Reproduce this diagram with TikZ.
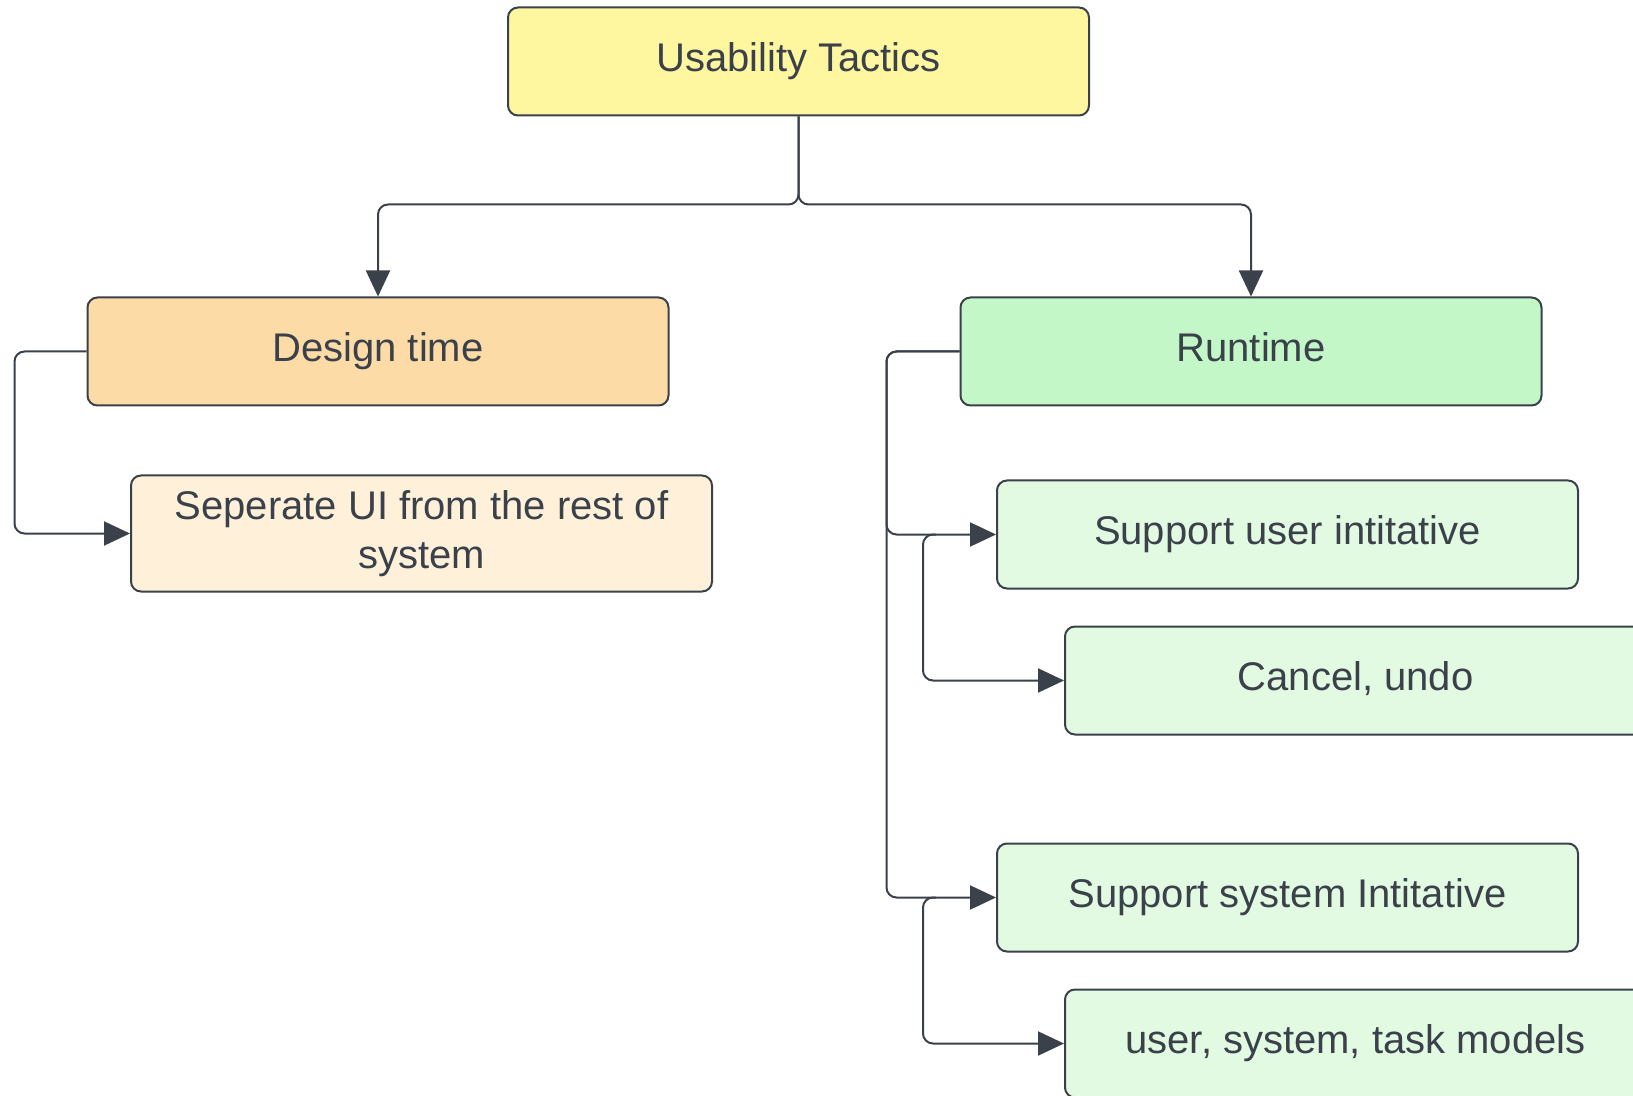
\documentclass[tikz,border=0pt]{standalone}
\usepackage{fontspec}
\setmainfont{Liberation Sans}
\usepackage{xcolor}
\usepackage{tikz}
\usetikzlibrary{arrows.meta,positioning}
\definecolor{linec}{HTML}{3A414A}
\definecolor{topc}{HTML}{FFF6A0}
\definecolor{designc}{HTML}{FDDBA6}
\definecolor{sepc}{HTML}{FFF1D9}
\definecolor{runc}{HTML}{C3F7C8}
\definecolor{subc}{HTML}{E2FAE2}

\begin{document}
\begin{tikzpicture}[
  box/.style={draw=linec, line width=1pt, rounded corners=5pt, align=center,
              inner sep=2pt, text=linec, font=\fontsize{20}{24.5}\selectfont,
              text height=14.5pt, text depth=4.5pt,
              minimum width=290.5pt, minimum height=54pt},
  conn/.style={draw=linec, line width=1pt, rounded corners=5pt,
               -{Triangle[length=13pt,width=12pt]}},
  >=Stealth
]
  \useasboundingbox (0,0) rectangle (816.5pt,-548pt);

  \node[box, fill=topc] (T) at (399.25pt,-30.75pt) {Usability Tactics};
  \node[box, fill=designc, below=90pt of T, xshift=-210.25pt] (D) {Design time};
  \node[box, fill=runc, right=145pt of D] (R) {Runtime};
  \node[box, fill=sepc, below=34pt of D, xshift=21.75pt, minimum height=58pt,
        text height=, text depth=] (S) {Seperate UI from the rest of\\system};

  \node[box, fill=subc, below=36.5pt of R, xshift=18.25pt] (U) {Support user intitative};
  \node[box, fill=subc, below=18pt of U, xshift=34pt] (C) {Cancel, undo};
  \node[box, fill=subc, below=53.5pt of C, xshift=-34pt] (Y) {Support system Intitative};
  \node[box, fill=subc, below=18pt of Y, xshift=34pt] (M) {user, system, task models};

  \draw[conn] (T.south) |- ([yshift=46pt]D.north) -- (D.north);
  \draw[conn] (T.south) |- ([yshift=46pt]R.north) -- (R.north);

  \draw[conn] (D.west) -- ++(-36pt,0) |- (S.west);

  \draw[conn] (R.west) -- ++(-36.5pt,0) |- (U.west);
  \draw[conn] (R.west) -- ++(-36.5pt,0) |- (Y.west);
  \draw[conn] ([xshift=-30pt]U.west) -- ++(-6.5pt,0) |- (C.west);
  \draw[conn] ([xshift=-30pt]Y.west) -- ++(-6.5pt,0) |- (M.west);
\end{tikzpicture}
\end{document}
